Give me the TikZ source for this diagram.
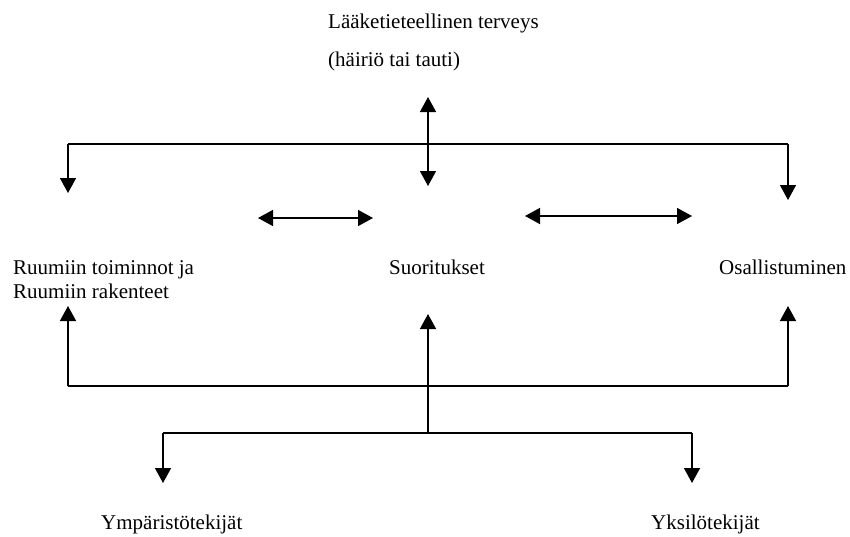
\documentclass[tikz,border=0pt]{standalone}
\usepackage{fontspec}
\setmainfont{Liberation Serif}
\usetikzlibrary{arrows.meta}
\begin{document}
\begin{tikzpicture}[x=1pt,y=-1pt,
  lbl/.style={inner sep=0pt,anchor=base west,font=\fontsize{21}{24}\selectfont},
  conn/.style={line width=1.5pt},
  tip/.style={-{Triangle[width=16pt,length=15pt]}},
  dtip/.style={{Triangle[width=16pt,length=15pt]}-{Triangle[width=16pt,length=15pt]}}]
\useasboundingbox (0,0) rectangle (850,536);
% texts
\node[lbl] (health) at (328,28) {Lääketieteellinen terveys};
\node[lbl] (disorder) at (328,66) {(häiriö tai tauti)};
\node[lbl] (body1) at (13,274) {Ruumiin toiminnot ja};
\node[lbl] (body2) at (13,298) {Ruumiin rakenteet};
\node[lbl] (act) at (389,274) {Suoritukset};
\node[lbl] (part) at (719,274) {Osallistuminen};
\node[lbl] (env) at (101,529) {Ympäristötekijät};
\node[lbl] (pers) at (651,529) {Yksilötekijät};
% coordinates
\coordinate (hTop) at (428,97);
\coordinate (hBot) at (428,186);
\coordinate (tL) at (68,144);
\coordinate (tR) at (788,144);
\coordinate (tLend) at (68,193);
\coordinate (tRend) at (788,200);
\coordinate (aL1) at (258,218);
\coordinate (aL2) at (373,218);
\coordinate (aR1) at (525,216);
\coordinate (aR2) at (692,216);
\coordinate (bL) at (68,386);
\coordinate (bR) at (788,386);
\coordinate (bLend) at (68,306);
\coordinate (bRend) at (788,306);
\coordinate (cBot) at (428,433);
\coordinate (cTop) at (428,314);
\coordinate (lL) at (163,433);
\coordinate (lR) at (692,433);
\coordinate (lLend) at (163,483);
\coordinate (lRend) at (692,483);
% connectors
\draw[conn,dtip] (hTop) -- (hBot);
\draw[conn] (tL) -- (tR);
\draw[conn,tip] (tL) -- (tLend);
\draw[conn,tip] (tR) -- (tRend);
\draw[conn,dtip] (aL1) -- (aL2);
\draw[conn,dtip] (aR1) -- (aR2);
\draw[conn,tip] (bL) -- (bLend);
\draw[conn,tip] (bR) -- (bRend);
\draw[conn] (bL) -- (bR);
\draw[conn,tip] (cBot) -- (cTop);
\draw[conn] (lL) -- (lR);
\draw[conn,tip] (lL) -- (lLend);
\draw[conn,tip] (lR) -- (lRend);
\end{tikzpicture}
\end{document}
